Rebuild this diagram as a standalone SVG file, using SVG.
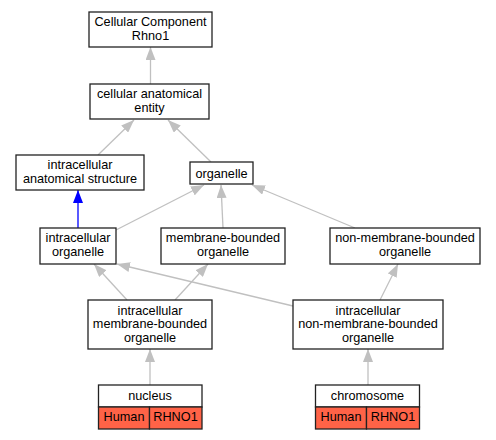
<svg xmlns="http://www.w3.org/2000/svg" width="496" height="440" viewBox="0 0 496 440">
<defs>
<style>
.n rect{fill:#fff;stroke:#222;stroke-width:1.3}
.n text{font-family:"Liberation Sans",Arial,sans-serif;font-size:12.7px;text-anchor:middle;fill:#000}
.n rect.g{fill:#ff6347}
.e path{fill:none;stroke:#c0c0c0;stroke-width:1.3;marker-end:url(#ag)}
.e path.b{stroke:#0000ff;marker-end:url(#ab)}
</style>
<marker id="ag" viewBox="0 0 13 10" refX="13" refY="5" markerWidth="13" markerHeight="10" markerUnits="userSpaceOnUse" orient="auto"><path d="M0,0 L13,5 L0,10 z" fill="#c0c0c0"/></marker>
<marker id="ab" viewBox="0 0 13 10" refX="13" refY="5" markerWidth="13" markerHeight="10" markerUnits="userSpaceOnUse" orient="auto"><path d="M0,0 L13,5 L0,10 z" fill="#0000ff"/></marker>
</defs>
<rect width="496" height="440" fill="#fff"/>
<g id="edges" class="e">
<path d="M150.5,84 L150.5,47"/>
<path d="M98,155 L134,120"/>
<path d="M211,162 L168,120"/>
<path class="b" d="M78,228 L78,190"/>
<path d="M116,230 L204,185"/>
<path d="M223,228 L221,185"/>
<path d="M355,228 L252,185"/>
<path d="M127,300 L94,264"/>
<path d="M175,300 L208,264"/>
<path d="M293,306 L117,264"/>
<path d="M380,300 L398,264"/>
<path d="M150,385 L150,349"/>
<path d="M368,385 L368,349"/>
</g>
<g id="n_cc" class="n"><rect x="89" y="12" width="123" height="35"/><text x="150.5" y="25.5">Cellular Component</text><text x="150.5" y="40">Rhno1</text></g>
<g id="n_cae" class="n"><rect x="90" y="84" width="119" height="35"/><text x="149.5" y="97.5">cellular anatomical</text><text x="149.5" y="112">entity</text></g>
<g id="n_ias" class="n"><rect x="16" y="155" width="128" height="35"/><text x="80" y="168.5">intracellular</text><text x="80" y="183">anatomical structure</text></g>
<g id="n_org" class="n"><rect x="190" y="162" width="63" height="22"/><text x="221.5" y="177.5">organelle</text></g>
<g id="n_io" class="n"><rect x="40" y="228" width="76" height="36"/><text x="78" y="241.5">intracellular</text><text x="78" y="256">organelle</text></g>
<g id="n_mbo" class="n"><rect x="161" y="228" width="124" height="36"/><text x="223" y="241.5">membrane-bounded</text><text x="223" y="256">organelle</text></g>
<g id="n_nmbo" class="n"><rect x="330" y="228" width="150" height="36"/><text x="405" y="241.5">non-membrane-bounded</text><text x="405" y="256">organelle</text></g>
<g id="n_imbo" class="n"><rect x="88" y="300" width="124" height="49"/><text x="150" y="314.5">intracellular</text><text x="150" y="328">membrane-bounded</text><text x="150" y="341.5">organelle</text></g>
<g id="n_inmbo" class="n"><rect x="293" y="300" width="150" height="49"/><text x="368" y="314.5">intracellular</text><text x="368" y="328">non-membrane-bounded</text><text x="368" y="341.5">organelle</text></g>
<g id="n_nucleus" class="n"><rect x="98.5" y="385" width="103.5" height="22"/><rect class="g" x="98.5" y="407" width="51" height="22"/><rect class="g" x="149.5" y="407" width="52.5" height="22"/><text x="150" y="399.5">nucleus</text><text x="124" y="421">Human</text><text x="175.5" y="421">RHNO1</text></g>
<g id="n_chromosome" class="n"><rect x="315.5" y="385" width="104" height="22"/><rect class="g" x="315.5" y="407" width="51" height="22"/><rect class="g" x="366.5" y="407" width="53" height="22"/><text x="367.5" y="399.5">chromosome</text><text x="341" y="421">Human</text><text x="393" y="421">RHNO1</text></g>
</svg>
